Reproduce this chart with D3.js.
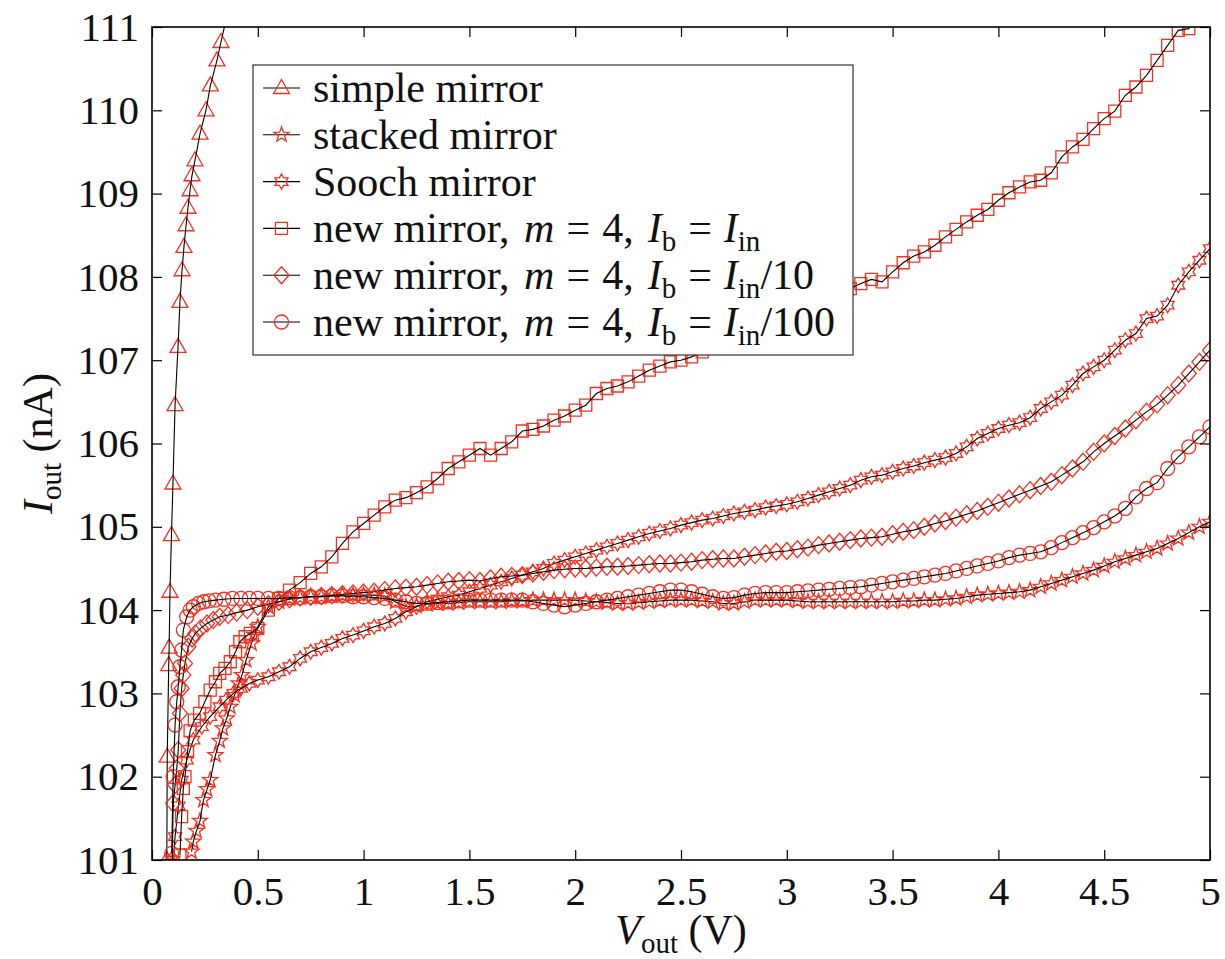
<!DOCTYPE html>
<html>
<head>
<meta charset="utf-8">
<script src="https://cdn.jsdelivr.net/npm/d3@7"></script>
<style>
  body { margin: 0; background: #fff; }
  svg text { font-family: "Liberation Serif", "Times New Roman", Times, "DejaVu Serif", serif; fill: #111; }
</style>
</head>
<body>
<svg id="chart"></svg>
<script>
// sweep grid for the flat part of every curve (V)
const vSweep = [0.5,0.55,0.6,0.65,0.7,0.75,0.8,0.85,0.9,0.95,1.0,
  1.05,1.1,1.15,1.2,1.25,1.3,1.35,1.4,1.45,1.5,1.55,1.6,1.65,1.7,1.75,1.8,1.85,1.9,1.95,2.0,
  2.05,2.1,2.15,2.2,2.25,2.3,2.35,2.4,2.45,2.5,2.55,2.6,2.65,2.7,2.75,2.8,2.85,2.9,2.95,3.0,
  3.05,3.1,3.15,3.2,3.25,3.3,3.35,3.4,3.45,3.5,3.55,3.6,3.65,3.7,3.75,3.8,3.85,3.9,3.95,4.0,
  4.05,4.1,4.15,4.2,4.25,4.3,4.35,4.4,4.45,4.5,4.55,4.6,4.65,4.7,4.75,4.8,4.85,4.9,4.95,5.0];

// simple mirror: only the steep start is inside the window
const simpleMirror = [[0.07,101.0],[0.072,102.24],[0.079,103.34],[0.081,103.55],[0.085,104.22],[0.092,104.9],
  [0.099,105.52],[0.109,106.46],[0.123,107.16],[0.132,107.7],[0.142,108.08],[0.151,108.36],[0.161,108.62],
  [0.17,108.83],[0.18,109.04],[0.189,109.22],[0.203,109.4],[0.227,109.72],[0.255,110.0],[0.276,110.3],
  [0.307,110.6],[0.326,110.82],[0.36,111.2]];

// stacked mirror
const stackedLow = [[0.187,101.1],[0.195,101.22],[0.21,101.35],[0.227,101.47],[0.243,101.72],[0.26,101.85],
  [0.275,101.96],[0.3,102.26],[0.32,102.43],[0.335,102.58],[0.353,102.7],[0.37,102.84],[0.39,102.98],
  [0.41,103.12],[0.425,103.22],[0.445,103.4],[0.47,103.6],[0.485,103.7]];
const stackedI = [103.8,104.04,104.1,104.14,104.15,104.16,104.16,104.17,104.18,104.18,104.18,
  104.18,104.17,104.1,104.04,104.05,104.07,104.08,104.08,104.09,104.1,
  104.1,104.1,104.1,104.11,104.11,104.12,104.12,104.12,104.12,104.12,
  104.11,104.1,104.09,104.08,104.08,104.09,104.1,104.11,104.12,104.12,
  104.12,104.11,104.1,104.08,104.08,104.1,104.12,104.12,104.12,104.12,
  104.11,104.1,104.1,104.1,104.1,104.1,104.1,104.1,104.1,104.1,
  104.11,104.11,104.12,104.12,104.13,104.14,104.16,104.18,104.19,104.2,
  104.21,104.22,104.24,104.28,104.32,104.36,104.4,104.44,104.48,104.53,
  104.58,104.62,104.66,104.7,104.74,104.8,104.86,104.93,105.0,105.06];

// Sooch mirror
const soochLow = [[0.102,101.0],[0.109,101.28],[0.125,101.65],[0.14,101.96],[0.164,102.2],[0.195,102.44],
  [0.235,102.6],[0.275,102.72],[0.32,102.84],[0.35,102.92],[0.385,103.0],[0.42,103.06],[0.46,103.12]];
const soochI = [103.16,103.2,103.26,103.32,103.42,103.5,103.55,103.6,103.66,103.7,103.75,
  103.8,103.84,103.9,103.98,104.04,104.1,104.13,104.16,104.18,104.22,
  104.26,104.3,104.34,104.38,104.42,104.46,104.5,104.56,104.6,104.64,
  104.68,104.72,104.76,104.8,104.84,104.88,104.92,104.95,104.98,105.02,
  105.05,105.08,105.1,105.13,105.16,105.18,105.2,105.23,105.25,105.27,
  105.3,105.34,105.38,105.42,105.46,105.5,105.56,105.6,105.62,105.66,
  105.7,105.73,105.77,105.8,105.83,105.88,105.96,106.06,106.12,106.18,
  106.22,106.25,106.31,106.42,106.5,106.58,106.7,106.84,106.92,107.0,
  107.12,107.24,107.32,107.5,107.53,107.66,107.9,108.06,108.2,108.34];

// new mirror, Ib = Iin
const newInLow = [[0.132,101.06],[0.14,101.52],[0.148,101.86],[0.156,102.0],[0.168,102.3],[0.18,102.55],
  [0.2,102.68],[0.225,102.76],[0.25,102.9],[0.275,103.04],[0.3,103.14],[0.32,103.24],[0.345,103.3],
  [0.37,103.38],[0.395,103.5],[0.415,103.62],[0.44,103.68],[0.465,103.72]];
const newInI = [103.78,104.0,104.14,104.24,104.33,104.44,104.52,104.64,104.8,104.94,105.04,
  105.14,105.24,105.32,105.35,105.41,105.48,105.58,105.7,105.78,105.86,
  105.94,105.86,105.94,106.02,106.15,106.17,106.21,106.28,106.33,106.4,
  106.46,106.6,106.66,106.69,106.74,106.81,106.88,106.93,106.98,107.0,
  107.04,107.1,107.16,107.22,107.28,107.33,107.38,107.44,107.5,107.55,
  107.6,107.66,107.72,107.77,107.82,107.86,107.92,107.97,107.94,108.06,
  108.17,108.25,108.3,108.38,108.48,108.57,108.66,108.74,108.81,108.92,
  109.01,109.08,109.14,109.16,109.25,109.44,109.56,109.65,109.78,109.9,
  109.99,110.18,110.28,110.42,110.6,110.78,110.96,110.98,111.3,111.6];

// new mirror, Ib = Iin/10
const newTenLow = [[0.096,101.0],[0.1,101.68],[0.109,101.9],[0.117,102.1],[0.124,102.32],[0.132,102.76],
  [0.14,103.06],[0.148,103.22],[0.156,103.36],[0.172,103.56],[0.19,103.66],[0.205,103.72],[0.23,103.78],
  [0.26,103.84],[0.29,103.88],[0.32,103.92],[0.36,103.94],[0.4,103.97],[0.45,104.0]];
const newTenI = [104.04,104.07,104.1,104.13,104.15,104.16,104.17,104.18,104.19,104.2,104.21,
  104.22,104.24,104.26,104.27,104.28,104.3,104.32,104.34,104.35,104.36,
  104.35,104.38,104.4,104.41,104.42,104.44,104.46,104.48,104.49,104.5,
  104.5,104.51,104.52,104.52,104.53,104.54,104.55,104.56,104.56,104.57,
  104.58,104.6,104.61,104.62,104.62,104.64,104.66,104.68,104.7,104.71,
  104.73,104.75,104.78,104.8,104.82,104.84,104.86,104.87,104.88,104.91,
  104.94,104.96,105.0,105.04,105.07,105.11,105.15,105.19,105.24,105.29,
  105.34,105.39,105.44,105.49,105.54,105.62,105.7,105.78,105.9,106.0,
  106.09,106.18,106.28,106.38,106.47,106.58,106.7,106.84,106.98,107.12];

// new mirror, Ib = Iin/100
const newHundLow = [[0.093,101.08],[0.1,102.0],[0.109,102.62],[0.117,102.9],[0.124,103.08],[0.132,103.32],
  [0.14,103.52],[0.148,103.76],[0.164,103.92],[0.18,104.0],[0.195,104.04],[0.22,104.08],[0.245,104.1],
  [0.27,104.11],[0.3,104.12],[0.34,104.13],[0.38,104.14],[0.42,104.14],[0.46,104.14]];
const newHundI = [104.14,104.14,104.14,104.15,104.15,104.16,104.16,104.17,104.17,104.16,104.16,
  104.15,104.14,104.12,104.1,104.08,104.08,104.09,104.1,104.11,104.12,
  104.12,104.12,104.12,104.12,104.12,104.1,104.08,104.06,104.04,104.06,
  104.08,104.1,104.12,104.14,104.16,104.18,104.2,104.22,104.24,104.24,
  104.22,104.19,104.16,104.14,104.15,104.18,104.2,104.21,104.21,104.21,
  104.22,104.23,104.24,104.25,104.26,104.27,104.28,104.3,104.32,104.34,
  104.36,104.38,104.4,104.42,104.44,104.47,104.5,104.53,104.56,104.59,
  104.63,104.66,104.68,104.7,104.75,104.81,104.87,104.93,104.99,105.06,
  105.13,105.22,105.36,105.46,105.53,105.7,105.84,105.96,106.08,106.2];

const xTicks = [0,0.5,1,1.5,2,2.5,3,3.5,4,4.5,5];
const yTicks = [101,102,103,104,105,106,107,108,109,110,111];

const W = 1225, H = 959;
const plot = { left: 152, right: 1210, top: 27, bottom: 860 };
const serif = "'Liberation Serif', 'Times New Roman', Times, 'DejaVu Serif', serif";
const red = "#f5301f";

const svg = d3.select("#chart").attr("width", W).attr("height", H);

const x = d3.scaleLinear().domain([0, 5]).range([plot.left, plot.right]);
const y = d3.scaleLinear().domain([101, 111]).range([plot.bottom, plot.top]);

// marker shapes, centred on the data point
function star(n, R, r) {
  const pts = [];
  for (let i = 0; i < 2 * n; i++) {
    const a = -Math.PI / 2 + i * Math.PI / n;
    const rad = i % 2 === 0 ? R : r;
    pts.push([rad * Math.cos(a), rad * Math.sin(a)]);
  }
  return "M" + pts.map(p => p[0].toFixed(2) + "," + p[1].toFixed(2)).join("L") + "Z";
}
const markerPath = {
  triangle: "M0,-8.5L8,5.5L-8,5.5Z",
  pentagram: star(5, 8, 3.2),
  hexagram: star(6, 7.5, 4.33),
  square: "M-6,-6H6V6H-6Z",
  diamond: "M0,-8.5L7.5,0L0,8.5L-7.5,0Z",
  circle: "M7,0A7,7 0 1,1 -7,0A7,7 0 1,1 7,0Z"
};

const join = (low, vals) => low.concat(vSweep.map((v, i) => [v, vals[i]]));

const series = [
  { name: "simple", marker: "triangle", pts: simpleMirror },
  { name: "stacked", marker: "pentagram", pts: join(stackedLow, stackedI) },
  { name: "sooch", marker: "hexagram", pts: join(soochLow, soochI) },
  { name: "newIn", marker: "square", pts: join(newInLow, newInI) },
  { name: "newTen", marker: "diamond", pts: join(newTenLow, newTenI) },
  { name: "newHund", marker: "circle", pts: join(newHundLow, newHundI) }
];

svg.append("defs").append("clipPath").attr("id", "clip")
  .append("rect")
  .attr("x", plot.left).attr("y", plot.top)
  .attr("width", plot.right - plot.left).attr("height", plot.bottom - plot.top);

const g = svg.append("g").attr("clip-path", "url(#clip)");
const line = d3.line().x(d => x(d[0])).y(d => y(d[1]));

series.forEach(s => {
  g.append("g").selectAll("path")
    .data(s.pts)
    .enter().append("path")
    .attr("d", markerPath[s.marker])
    .attr("transform", d => "translate(" + x(d[0]) + "," + y(d[1]) + ")")
    .attr("fill", "none")
    .attr("stroke", red)
    .attr("stroke-width", 1.3);
  g.append("path")
    .datum(s.pts)
    .attr("d", line)
    .attr("fill", "none")
    .attr("stroke", "#000")
    .attr("stroke-width", 1.1);
});

// axes: ticks point inward on all four sides
const fmt = d => String(d);
svg.append("g").attr("transform", "translate(0," + plot.bottom + ")")
  .call(d3.axisBottom(x).tickValues(xTicks).tickSize(-10).tickPadding(16).tickFormat(fmt));
svg.append("g").attr("transform", "translate(0," + plot.top + ")")
  .call(d3.axisTop(x).tickValues(xTicks).tickSize(-10).tickFormat(""));
svg.append("g").attr("transform", "translate(" + plot.left + ",0)")
  .call(d3.axisLeft(y).tickValues(yTicks).tickSize(-10).tickPadding(13).tickFormat(fmt));
svg.append("g").attr("transform", "translate(" + plot.right + ",0)")
  .call(d3.axisRight(y).tickValues(yTicks).tickSize(-10).tickFormat(""));

svg.selectAll(".domain").remove();
svg.selectAll(".tick line").attr("stroke", "#000").attr("stroke-width", 1.2);
svg.selectAll("g.tick text")
  .attr("font-family", serif)
  .style("font-family", serif)
  .style("font-size", "41px")
  .attr("fill", "#111");

svg.append("rect")
  .attr("x", plot.left).attr("y", plot.top)
  .attr("width", plot.right - plot.left).attr("height", plot.bottom - plot.top)
  .attr("fill", "none").attr("stroke", "#000").attr("stroke-width", 1.6);

// axis titles
const xt = svg.append("text")
  .attr("x", 681).attr("y", 944)
  .attr("text-anchor", "middle").style("font-size", "42px").style("font-family", serif);
xt.append("tspan").style("font-style", "italic").text("V");
xt.append("tspan").attr("dy", 9).style("font-size", "29px").text("out");
xt.append("tspan").attr("dy", -9).text(" (V)");

const yt = svg.append("text")
  .attr("transform", "translate(52," + (plot.top + plot.bottom) / 2 + ") rotate(-90)")
  .attr("text-anchor", "middle").style("font-size", "42px").style("font-family", serif);
yt.append("tspan").style("font-style", "italic").text("I");
yt.append("tspan").attr("dy", 9).style("font-size", "29px").text("out");
yt.append("tspan").attr("dy", -9).text(" (nA)");

// legend
const legend = svg.append("g");
legend.append("rect")
  .attr("x", 253).attr("y", 65).attr("width", 600).attr("height", 290)
  .attr("fill", "#fff").attr("stroke", "#333").attr("stroke-width", 1.2);

const newMirror = [{ t: "new mirror, " }, { t: "m", i: true, dx: 4 }, { t: "=", dx: 12 }, { t: "4,", dx: 12 },
  { t: "I", i: true, dx: 14 }, { t: "b", s: true }, { t: "=", dx: 12 }, { t: "I", i: true, dx: 12 }, { t: "in", s: true }];
const legendRows = [
  [{ t: "simple mirror" }],
  [{ t: "stacked mirror" }],
  [{ t: "Sooch mirror" }],
  newMirror,
  newMirror.concat([{ t: "/10" }]),
  newMirror.concat([{ t: "/100" }])
];

series.forEach((s, k) => {
  const cy = 88 + k * 46.8;
  legend.append("line")
    .attr("x1", 263).attr("x2", 300).attr("y1", cy).attr("y2", cy)
    .attr("stroke", "#000").attr("stroke-width", 1.1);
  legend.append("path")
    .attr("d", markerPath[s.marker])
    .attr("transform", "translate(281.5," + cy + ")")
    .attr("fill", "none").attr("stroke", red).attr("stroke-width", 1.3);
  const t = legend.append("text")
    .attr("x", 313).attr("y", cy + 14)
    .style("font-size", "42px").style("font-family", serif)
    .attr("xml:space", "preserve");
  let shifted = false;
  legendRows[k].forEach(p => {
    const sp = t.append("tspan").text(p.t);
    if (p.i) sp.style("font-style", "italic");
    if (p.dx) sp.attr("dx", p.dx);
    if (p.s) { sp.style("font-size", "29px").attr("dy", 9); shifted = true; }
    else if (shifted) { sp.attr("dy", -9); shifted = false; }
  });
});
</script>
</body>
</html>
